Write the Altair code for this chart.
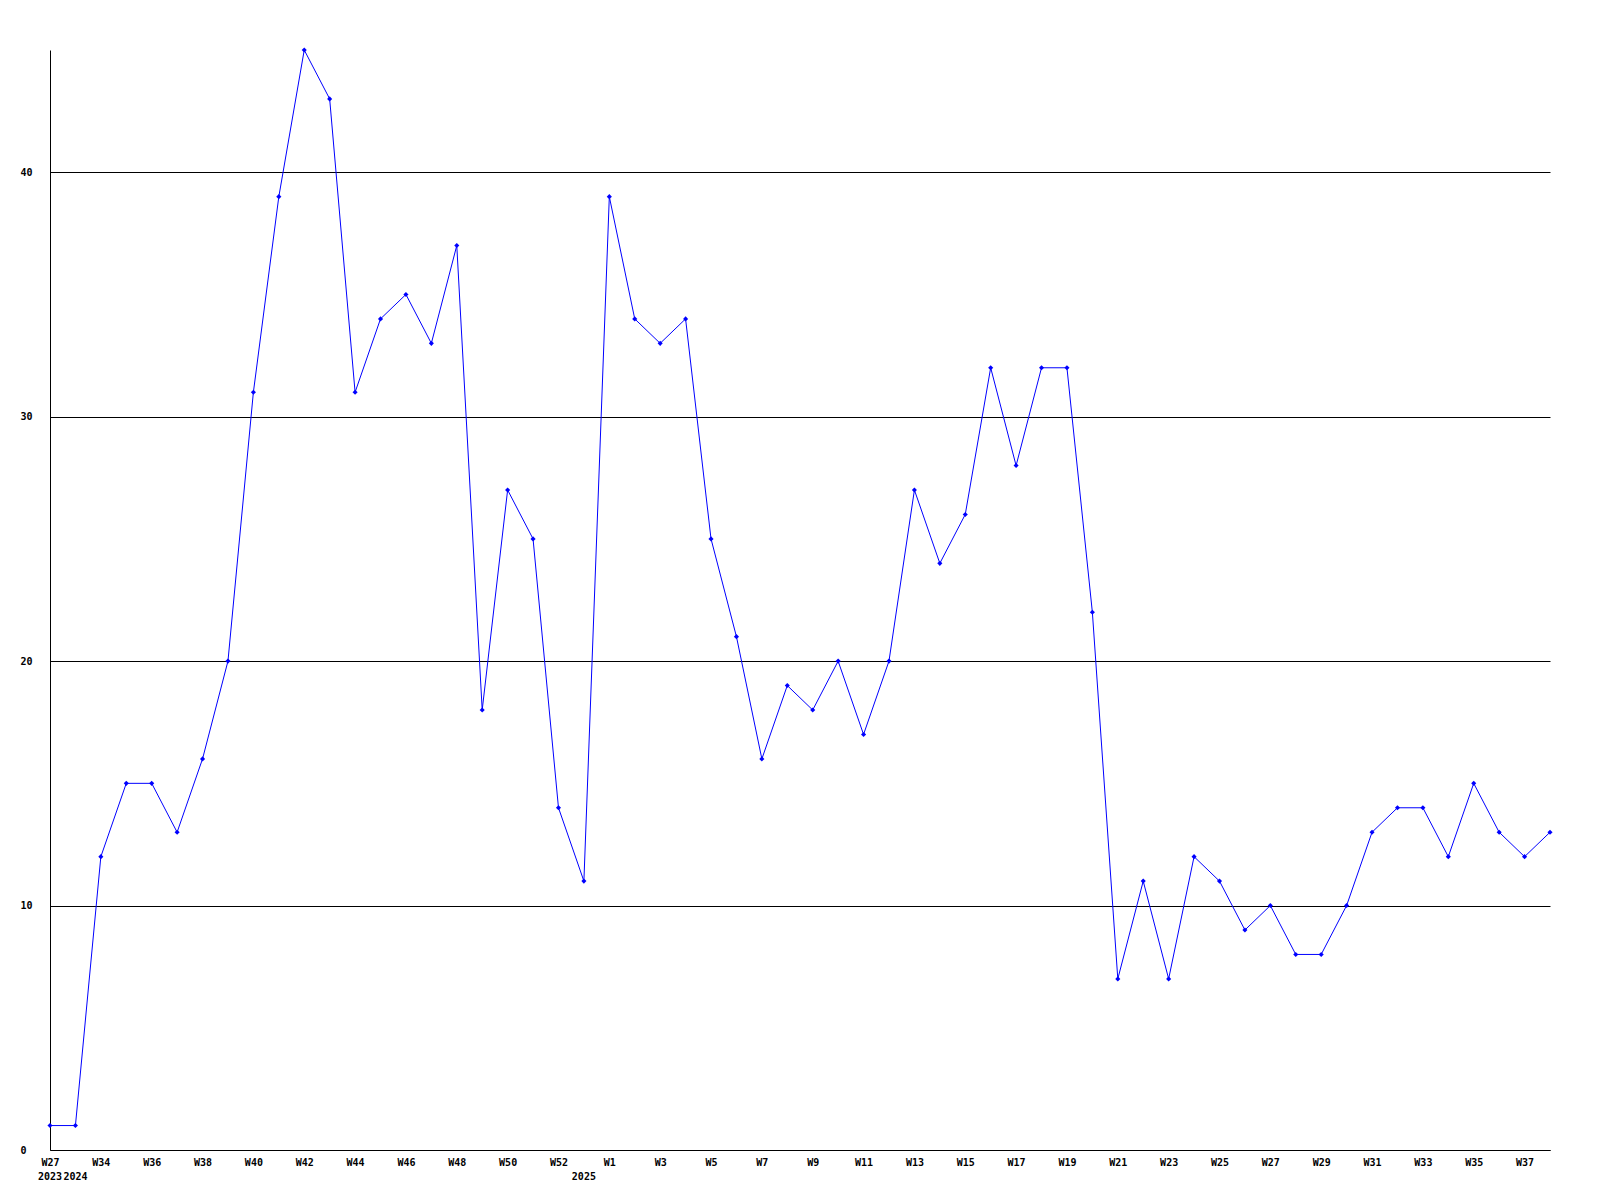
import altair as alt
import pandas as pd

weeks = ["W27", "W33", "W34", "W35", "W36", "W37", "W38", "W39", "W40", "W41",
         "W42", "W43", "W44", "W45", "W46", "W47", "W48", "W49", "W50", "W51",
         "W52", "W53", "W1", "W2", "W3", "W4", "W5", "W6", "W7", "W8",
         "W9", "W10", "W11", "W12", "W13", "W14", "W15", "W16", "W17", "W18",
         "W19", "W20", "W21", "W22", "W23", "W24", "W25", "W26", "W27", "W28",
         "W29", "W30", "W31", "W32", "W33", "W34", "W35", "W36", "W37", "W38"]
values = [1, 1, 12, 15, 15, 13, 16, 20, 31, 39,
          45, 43, 31, 34, 35, 33, 37, 18, 27, 25,
          14, 11, 39, 34, 33, 34, 25, 21, 16, 19,
          18, 20, 17, 20, 27, 24, 26, 32, 28, 32,
          32, 22, 7, 11, 7, 12, 11, 9, 10, 8,
          8, 10, 13, 14, 14, 12, 15, 13, 12, 13]
year_labels = ["2023", "2024", "2025"]
year_index = [0, 1, 21]
y_ticks = [0, 10, 20, 30, 40]

idx = list(range(len(values)))
df = pd.DataFrame({"i": idx, "week": weeks, "v": values})
ydf = pd.DataFrame({"i": year_index, "year": year_labels})

label_map = "{" + ",".join(f'"{i}":"{w}"' for i, w in zip(idx, weeks)) + "}"
tick_vals = [i for i in idx if i % 2 == 0]

FONT = "DejaVu Sans Mono"

x = alt.X("i:Q", scale=alt.Scale(domain=[0, len(values) - 1], nice=False, zero=False),
          axis=alt.Axis(values=tick_vals, labelExpr=f"{label_map}[datum.value + '']",
                        title=None, grid=False, ticks=False, domainColor="black",
                        labelColor="black", labelFont=FONT, labelFontSize=10,
                        labelFontWeight="bold", labelPadding=7, labelFlush=False,
                        labelOverlap=False, labelBaseline="top"))
y = alt.Y("v:Q", scale=alt.Scale(domain=[0, 45], nice=False),
          axis=alt.Axis(values=y_ticks, title=None, grid=True, gridColor="black",
                        gridOpacity=1, ticks=False, domainColor="black",
                        labelColor="black", labelFont=FONT, labelFontSize=10,
                        labelFontWeight="bold", labelAlign="left", labelPadding=30,
                        labelBaseline="middle"))

line = alt.Chart(df).mark_line(color="#0000ff", strokeWidth=1).encode(x=x, y=y)
pts = alt.Chart(df).mark_point(shape="diamond", filled=True, color="#0000ff",
                               size=26, opacity=1).encode(x="i:Q", y="v:Q")
years = alt.Chart(ydf).mark_text(font=FONT, fontSize=10, fontWeight="bold",
                                 color="black", baseline="top").encode(
    x="i:Q", y=alt.value(1122), text="year:N")

chart = alt.layer(line, pts, years).properties(
    width=1500, height=1100,
    padding={"left": 42, "top": 42, "right": 42, "bottom": 42},
    autosize=alt.AutoSizeParams(type="none"),
    background="white",
).configure_view(stroke=None)

chart.save("out.html", embed_options={"renderer": "svg", "actions": False})
